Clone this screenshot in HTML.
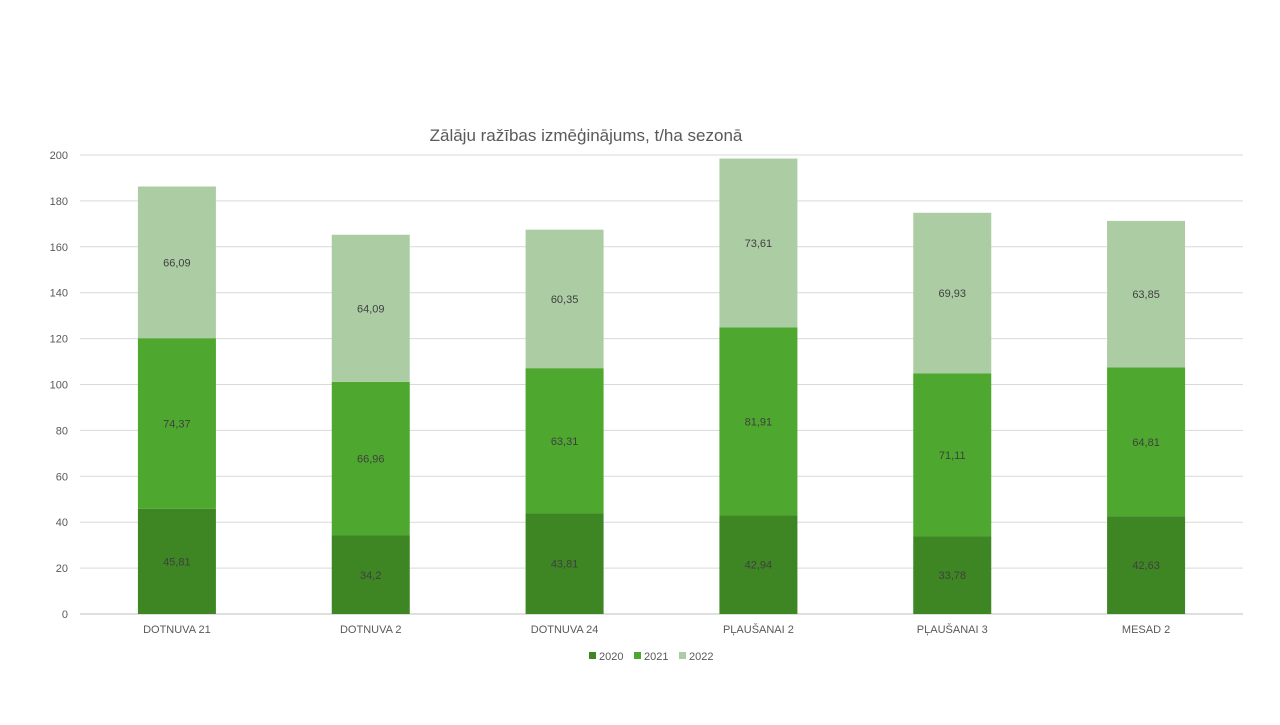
<!DOCTYPE html>
<html><head><meta charset="utf-8"><style>
body{margin:0;background:#fff;font-family:"Liberation Sans",sans-serif}
svg text{font-family:"Liberation Sans",sans-serif}
</style></head><body>
<svg id="c" width="1280" height="720">
<text x="586" y="141" font-size="17" fill="#595959" text-anchor="middle">Zālāju ražības izmēģinājums, t/ha sezonā</text>
</svg>
<script>
const categories=["DOTNUVA 21","DOTNUVA 2","DOTNUVA 24","PĻAUŠANAI 2","PĻAUŠANAI 3","MESAD 2"];
const s2020=[45.81,34.2,43.81,42.94,33.78,42.63];
const s2021=[74.37,66.96,63.31,81.91,71.11,64.81];
const s2022=[66.09,64.09,60.35,73.61,69.93,63.85];
const yTicks=[0,20,40,60,80,100,120,140,160,180,200];
const seriesNames=["2020","2021","2022"];
const colors=["#3e8624","#4ea72e","#accd a3".replace(" ","")];
const svg=document.getElementById('c');
const NS="http://www.w3.org/2000/svg";
const x0=80,x1=1243,y0=614,yTop=155,yMax=200;
const y=v=>y0-(v/yMax)*(y0-yTop);
const step=(x1-x0)/categories.length;
const xc=i=>x0+step*(i+0.5);
const bw=78;
function mk(t,a){const e=document.createElementNS(NS,t);for(const k in a)e.setAttribute(k,a[k]);svg.appendChild(e);return e;}
yTicks.forEach(t=>{
 const l=mk('line',{x1:x0,x2:x1,y1:y(t),y2:y(t),stroke:t===0?'#bfbfbf':'#d9d9d9','stroke-width':1});
 
 
 const tx=mk('text',{x:68,y:y(t)+4,'font-size':11,fill:'#595959','text-anchor':'end'});
 tx.textContent=t;
 
 
});
const series=[s2020,s2021,s2022];
categories.forEach((c,i)=>{
 let base=0;
 series.forEach((s,k)=>{
  const v=s[i];
  const r=mk('rect',{x:xc(i)-bw/2,y:y(base+v),width:bw,height:y(base)-y(base+v),fill:colors[k]});
  
  
  const t=mk('text',{x:xc(i),y:y(base+v/2)+4,'font-size':11,fill:'#404040','text-anchor':'middle'});
  t.textContent=String(v).replace('.',',');
  
  
  base+=v;
 });
 const ct=mk('text',{x:xc(i),y:633,'font-size':11,fill:'#595959','text-anchor':'middle'});
 ct.textContent=c;
 
 
});
const lx=[589,634,679];
seriesNames.forEach((n,k)=>{
 const r=mk('rect',{x:lx[k],y:652,width:7,height:7,fill:colors[k]});
 
 
 const t=mk('text',{x:lx[k]+10,y:660,'font-size':11,fill:'#595959'});
 t.textContent=n;
 
 
});
</script>
</body></html>
